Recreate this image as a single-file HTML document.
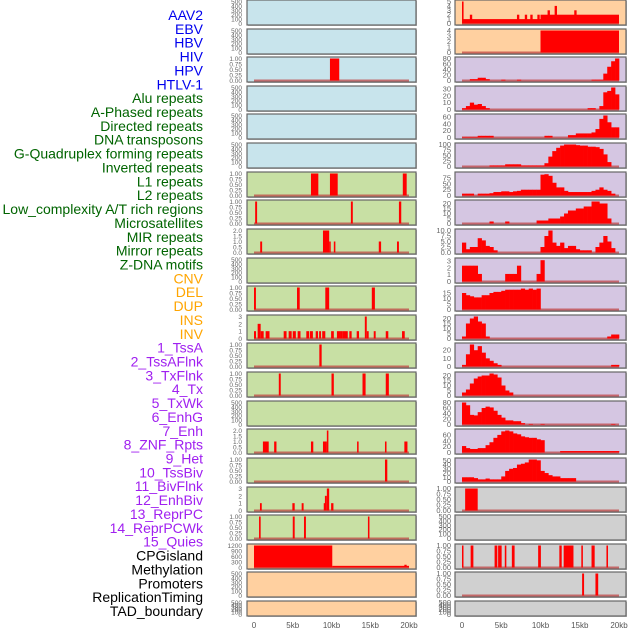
<!DOCTYPE html>
<html><head><meta charset="utf-8"><style>
html,body{margin:0;padding:0;background:#fff;}
svg{display:block;font-family:"Liberation Sans",sans-serif;}
</style></head><body>
<svg id="chart" width="630" height="630" viewBox="0 0 630 630"></svg>
<script>
const labelNames = ["AAV2","EBV","HBV","HIV","HPV","HTLV-1","Alu repeats","A-Phased repeats","Directed repeats","DNA transposons","G-Quadruplex forming repeats","Inverted repeats","L1 repeats","L2 repeats","Low_complexity A/T rich regions","Microsatellites","MIR repeats","Mirror repeats","Z-DNA motifs","CNV","DEL","DUP","INS","INV","1_TssA","2_TssAFlnk","3_TxFlnk","4_Tx","5_TxWk","6_EnhG","7_Enh","8_ZNF_Rpts","9_Het","10_TssBiv","11_BivFlnk","12_EnhBiv","13_ReprPC","14_ReprPCWk","15_Quies","CPGisland","Methylation","Promoters","ReplicationTiming","TAD_boundary"];
const labelColors = ["#0000ee","#0000ee","#0000ee","#0000ee","#0000ee","#0000ee",
"#006400","#006400","#006400","#006400","#006400","#006400","#006400","#006400","#006400","#006400","#006400","#006400","#006400",
"#ffa500","#ffa500","#ffa500","#ffa500","#ffa500",
"#a020f0","#a020f0","#a020f0","#a020f0","#a020f0","#a020f0","#a020f0","#a020f0","#a020f0","#a020f0","#a020f0","#a020f0","#a020f0","#a020f0","#a020f0",
"#000","#000","#000","#000","#000"];
const xTickLabels = ["0","5kb","10kb","15kb","20kb"];
const xTickValues = [0,5,10,15,20];
const T500 = ["0","100","200","300","400","500"];
const T1 = ["0.00","0.25","0.50","0.75","1.00"];
const T2 = ["0.0","0.5","1.0","1.5","2.0"];
// left column (0-21) then right column (22-43)
const panelBg = [
"#c8e4ec","#c8e4ec","#c8e4ec","#c8e4ec","#c8e4ec","#c8e4ec",
"#c8e0a4","#c8e0a4","#c8e0a4","#c8e0a4","#c8e0a4","#c8e0a4","#c8e0a4","#c8e0a4","#c8e0a4","#c8e0a4","#c8e0a4","#c8e0a4","#c8e0a4",
"#ffd0a0","#ffd0a0","#ffd0a0",
"#ffd0a0","#ffd0a0",
"#d5c6e2","#d5c6e2","#d5c6e2","#d5c6e2","#d5c6e2","#d5c6e2","#d5c6e2","#d5c6e2","#d5c6e2","#d5c6e2","#d5c6e2","#d5c6e2","#d5c6e2","#d5c6e2","#d5c6e2",
"#d0d0d0","#d0d0d0","#d0d0d0","#d0d0d0","#d0d0d0"];
const panelTicks = [
T500,T500,T1,T500,T500,T500,
T1,T1,T2,T500,T1,["0","1","2","3"],T1,T1,T500,T2,T1,["0","1","2","3"],T1,
["0","300","600","900","1200"],T500,T500,
["0","1","2","3","4","5"],["0","1","2","3","4"],["0","20","40","60","80"],["0","10","20","30"],["0","20","40","60"],["0","25","50","75","100"],["0","25","50","75"],["0","5","10","15","20"],["0.0","2.5","5.0","7.5","10.0"],["0","1","2","3"],["0","5","10","15"],["0","5","10","15","20"],["0","10","20"],["0","5","10","15","20"],["0","20","40","60","80"],["0","20","40","60"],["0","10","20","30","40","50"],
T1,T500,T1,T1,T500];
const panelMax = [500,500,1,500,500,500, 1,1,2,500,1,3,1,1,500,2,1,3,1,1200,500,500,
5,4,80,32,65,100,95,22,10,3.2,20,22,27,22,80,75,52, 1,500,1,1,500];
const panelSegs = [
[],[],[[9.8,11.0,1]],[],[],[],
[[7.35,8.3,1],[9.8,10.8,1],[19.2,19.7,1]],
[[0.15,0.4,1],[12.5,12.75,1],[18.7,19,1]],
[[0.8,1.05,1],[8.9,9.7,2],[9.7,9.9,1],[10.3,10.5,1],[16.1,16.4,1],[18.45,18.7,1]],
[],
[[0,0.25,1],[5.55,5.9,1],[9.2,9.7,1],[15.2,15.6,1]],
[[0,0.26,1],[0.47,0.86,2],[0.86,1.25,1],[1.5,2.0,1],[3.83,4.2,1],[4.47,4.86,1],[5.0,5.4,1],[5.63,6.0,1],[6.75,7.1,1],[7.2,7.6,1],[7.96,8.26,1],[8.4,8.65,1],[8.8,9.2,1],[9.95,10.3,1],[10.7,11.1,1],[11.1,11.4,1],[11.4,12.1,1],[12.3,12.6,1],[13.25,13.55,1],[14.3,14.55,3],[14.55,14.8,1],[15.45,15.7,1],[17,17.33,1],[19.1,19.45,1]],
[[8.43,8.73,1]],
[[3.2,3.45,1],[10,10.3,1],[14,14.4,1],[17,17.4,1]],
[],
[[1.15,1.9,1],[2.6,2.9,1],[7.35,7.65,1],[8.9,9.4,1],[9.4,9.6,2],[13.3,13.5,1],[16.9,17.1,1],[19.4,19.8,1]],
[[16.9,17.2,1]],
[[0.77,1.0,1],[4.95,5.25,1],[6.15,6.4,1],[9.0,9.15,1],[9.15,9.4,2],[9.4,9.7,3],[9.95,10.25,1]],
[[0.65,0.86,1],[5.0,5.25,1],[6.45,6.7,1],[14.7,14.9,1]],
[[0,10.1,1200],[10.1,20,90],[19.4,19.7,150]],
[],[],
[[0,10,1],[0,0.2,5],[1,1.3,2],[7,7.3,2],[8,8.3,2],[8.7,9,2],[9.6,9.9,2],[10,20,2],[10.9,11.2,3],[11.8,12.1,4],[14.3,14.6,3]],
[[10,20,4]],
[],[],[],[],[],[],[],[],[],[],[],[],[],[],[],
[[0.4,2.0,1]],
[],
[[0,0.15,1],[1.1,1.45,1],[4.15,4.5,1],[4.6,5.05,1],[5.45,5.65,1],[6.35,6.7,1],[9.7,10.05,1],[12.4,12.7,1],[12.95,14.2,1],[15.2,15.4,1],[16.5,16.9,1],[18.4,18.6,1]],
[[15.3,15.55,1],[17,17.35,1]],
[]];
const binsTssA = [0,0,5,5,10,10,5,0,0,0,3,0,0,0,3,0,0,0,0,0,0,0,0,0,0,0,0,0,0,0,0,0,0,3,3,3,25,50,70,80];
const binsTssAFlnk = [2,5,10,7,8,5,2,0,0,0,0,0,0,0,0,0,0,0,0,0,0,0,0,0,0,0,0,0,0,0,0,0,2,2,0,5,25,27,32,22];
const binsTxFlnk = [2,2,2,2,5,5,5,5,0,0,0,0,0,0,0,0,0,0,0,0,0,5,5,0,0,0,0,7,7,12,12,12,12,15,25,55,65,45,30,30];
const binsTx = [0,0,0,0,0,0,0,5,5,5,5,10,10,10,10,5,5,5,5,5,5,15,45,70,85,95,100,100,100,97,95,95,90,90,88,80,55,20,0,0];
const binsTxWk = [8,8,8,0,8,8,8,10,15,15,18,18,15,18,20,25,25,25,25,25,90,92,85,55,35,35,20,15,15,15,15,15,15,20,25,35,25,20,8,0];
const binsEnhG = [0,0,0,0,0,0,0,2,0,0,0,2,0,0,0,0,0,0,0,3,3,3,5,5,5,7,10,13,13,15,15,17,17,22,22,20,20,5,0,0];
const binsEnh = [4.5,1.5,2.5,2.5,6.5,5.5,3,2.5,1,0,0,0,0,0,0,0,0,0,0,0,2.5,7.5,10,4.5,3,4.5,2,3,3,1.5,1,1,1,0,2.5,4.5,7.5,5,2,0];
const binsZNF = [2.3,2.3,2.3,2.3,1.1,0,0,0,0,0,0,1.1,1.1,1.1,2.3,0,0,0,0,1.1,3.1,0,0,0,0,0,0,0,0,0,0,0,0,0,0,0,0,0,0,0];
const binsHet = [15,13,12,11,11,13,13,15,16,16,17,18,18,18,18,19,18,19,18,19,0,0,0,0,0,0,0,0,0,0,0,0,0,0,0,0,0,0,0,0];
const binsTssBiv = [2,15,20,22,17,15,2,0,0,0,0,0,0,0,0,0,0,0,0,0,0,0,0,0,0,0,0,0,0,0,0,0,0,0,0,0,0,2,4,4];
const binsBivFlnk = [2,15,27,20,25,17,10,7,4,2,0,0,0,0,0,0,0,0,0,0,0,0,0,0,0,0,0,0,0,0,0,0,0,0,0,0,0,0,2,2];
const binsEnhBiv = [3,6,12,17,19,20,20,22,21,18,10,5,3,0,0,0,0,0,0,0,0,0,0,0,0,0,0,0,0,0,0,0,0,0,0,0,0,0,0,0];
const binsReprPC = [80,70,35,33,45,60,65,62,50,35,25,15,15,12,12,5,0,2,0,0,2,0,0,0,0,0,0,0,0,0,0,0,0,0,0,0,0,0,2,0];
const binsReprPCWk = [22,15,12,12,15,15,25,35,50,60,72,75,72,65,62,55,52,50,50,45,42,0,0,0,0,5,5,5,5,5,5,5,5,5,5,5,5,5,5,5];
const binsQuies = [10,10,10,8,5,5,7,5,5,5,12,25,30,32,40,42,45,52,52,50,25,20,15,12,12,8,8,8,8,0,0,0,0,0,0,0,0,0,0,0];
const panelBins = {24:binsTssA,25:binsTssAFlnk,26:binsTxFlnk,27:binsTx,28:binsTxWk,29:binsEnhG,30:binsEnh,31:binsZNF,32:binsHet,33:binsTssBiv,34:binsBivFlnk,35:binsEnhBiv,36:binsReprPC,37:binsReprPCWk,38:binsQuies};

const NS = "http://www.w3.org/2000/svg";
const svg = document.getElementById("chart");
function mk(tag, attrs, parent){const e=document.createElementNS(NS,tag);for(const k in attrs)e.setAttribute(k,attrs[k]);(parent||svg).appendChild(e);return e;}
const rowTop = r => Math.round(r*28.62);
const colX = [{x0:247,x1:416,d0:254,d1:409,tx:242},{x0:455,x1:626,d0:462,d1:619,tx:451}];

// labels
labelNames.forEach((n,i)=>{
  const t=mk("text",{x:203,y:15+i*13.86+5,"text-anchor":"end","font-size":"14",fill:labelColors[i]});
  
  
  t.textContent=n;
});

for(let p=0;p<44;p++){
  const col=p<22?0:1, row=p%22, C=colX[col];
  const top=rowTop(row), h=row===21?15:25, bot=top+h;
  const xs=kb=>C.d0+(kb/20)*(C.d1-C.d0);
  const ys=v=>bot-1.5-(v/panelMax[p])*(h-3);
  const g=mk("g",{});
  
  
  mk("rect",{x:C.x0+1,y:top+1,width:C.x1-C.x0,height:h,fill:"#bbb"},g);
  mk("rect",{x:C.x0,y:top,width:C.x1-C.x0,height:h,fill:panelBg[p],stroke:"#666","stroke-width":1.2},g);
  const ticks=panelTicks[p];
  ticks.forEach(s=>{
    const t=mk("text",{x:C.tx,y:ys(parseFloat(s))+2.5,"text-anchor":"end","font-size":col?"7.5":"6.5",fill:"#666"},g);
    
    
    t.textContent=s;
  });
  const segs=panelSegs[p], bins=panelBins[p];
  const hasData=(segs&&segs.length)||bins;
  if(hasData) mk("rect",{x:xs(0),y:bot-2.5,width:xs(20)-xs(0),height:2,fill:"rgba(190,60,60,0.7)"},g);
  if(bins){
    bins.forEach((v,i)=>{
      if(v<=0)return;
      const r=mk("rect",{x:xs(i*0.5),y:ys(v),width:xs(0.5)-xs(0)+0.3,height:bot-1.5-ys(v),fill:"#ff0000"},g);
      
      
    });
  }
  (segs||[]).forEach(s=>{
    const r=mk("rect",{x:xs(s[0]),y:ys(s[2]),width:Math.max(1.5,xs(s[1])-xs(s[0])),height:bot-1.5-ys(s[2]),fill:"#ff0000"},g);
    
    
  });
}
// x-axes
[0,1].forEach(col=>{
  const C=colX[col];
  xTickValues.forEach((v,i)=>{
    const t=mk("text",{x:C.d0+(v/20)*(C.d1-C.d0),y:628,"text-anchor":"middle","font-size":"8",fill:"#555"});
    
    
    t.textContent=xTickLabels[i];
  });
});
</script>
</body></html>
